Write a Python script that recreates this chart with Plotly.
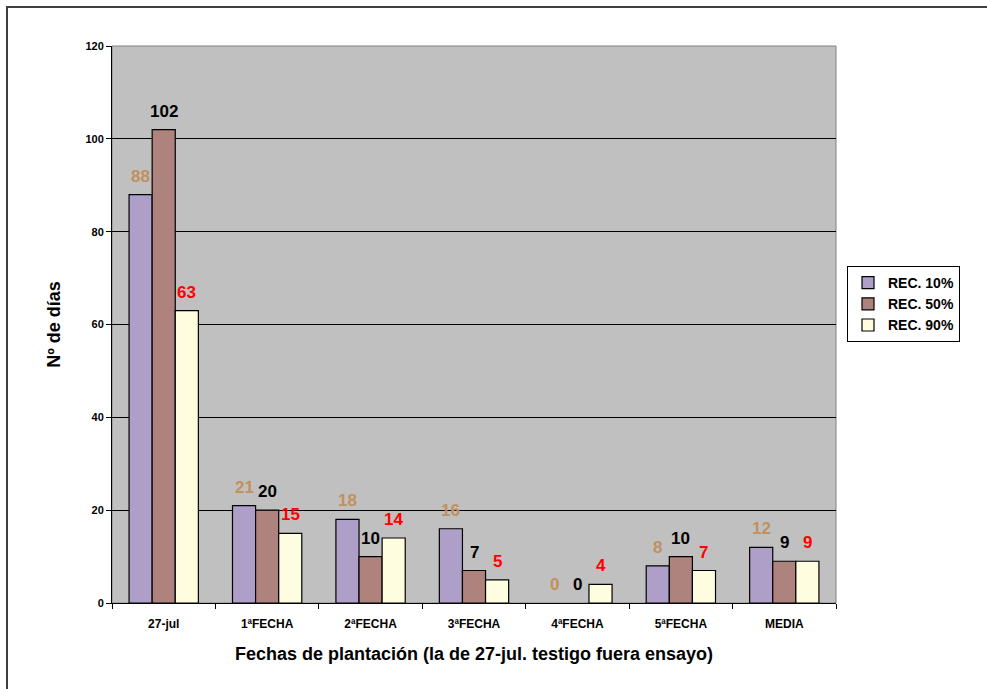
import plotly.graph_objects as go

categories = ["27-jul", "1ªFECHA", "2ªFECHA", "3ªFECHA", "4ªFECHA", "5ªFECHA", "MEDIA"]
rec10 = [88, 21, 18, 16, 0, 8, 12]
rec50 = [102, 20, 10, 7, 0, 10, 9]
rec90 = [63, 15, 14, 5, 4, 7, 9]
series_names = ["REC. 10%", "REC. 50%", "REC. 90%"]

bar_colors = ["#AE9FC9", "#AE827D", "#FFFDDF"]
label_colors = ["#C0905F", "#000000", "#FF0000"]
FONT = "Liberation Sans, Arial, sans-serif"

L, R, T, B = 112, 151, 46, 86
W, H = 987, 689
pw, ph = W - L - R, H - T - B
BAR_PX = pw / len(categories) * (1 - 0.33) / 3

def px(x):
    return (x - L) / pw

def py(y):
    return (H - B - y) / ph

fig = go.Figure()
annotations = []
for i, (name, vals, col, lcol) in enumerate(zip(series_names, [rec10, rec50, rec90], bar_colors, label_colors)):
    fig.add_trace(go.Bar(
        x=categories, y=vals, name=name,
        # no outline on empty (zero) bars
        marker=dict(color=col, line=dict(color="#000000",
                                         width=[1.2 if v else 0 for v in vals])),
    ))
    # value labels above each bar
    for c, v in zip(categories, vals):
        annotations.append(dict(
            x=c, y=v, xref="x", yref="y", text=str(v), showarrow=False,
            xanchor="center", yanchor="bottom", xshift=(i - 1) * BAR_PX, yshift=7,
            font=dict(family=FONT, size=17, color=lcol, weight="bold"),
        ))

fig.update_layout(
    width=W, height=H,
    margin=dict(l=L, r=R, t=T, b=B),
    paper_bgcolor="#FFFFFF", plot_bgcolor="#C0C0C0",
    barmode="group", bargap=0.33, bargroupgap=0,
    font=dict(family=FONT, color="#000000"),
    legend=dict(
        x=px(847), y=py(266), xanchor="left", yanchor="top",
        bgcolor="#FFFFFF", bordercolor="#000000", borderwidth=1,
        font=dict(family=FONT, size=14, color="#000000", weight="bold"),
        itemwidth=30, tracegroupgap=0,
    ),
    showlegend=True,
    annotations=annotations,
    xaxis=dict(
        type="category", showgrid=False, showline=True, linecolor="#000000", linewidth=1,
        ticks="outside", tickson="boundaries", ticklen=5, tickcolor="#000000",
        ticklabelstandoff=10,
        tickfont=dict(family=FONT, size=12, weight="bold"),
        title=dict(text="Fechas de plantación (la de 27-jul. testigo fuera ensayo)",
                   font=dict(family=FONT, size=18, weight="bold"), standoff=16),
    ),
    yaxis=dict(
        range=[0, 120], dtick=20, showgrid=True, gridcolor="#000000", gridwidth=1,
        showline=True, linecolor="#000000", linewidth=1,
        ticks="outside", ticklen=5, tickcolor="#000000",
        tickfont=dict(family=FONT, size=11, weight="bold"),
        zeroline=False,
        title=dict(text="Nº de días", font=dict(family=FONT, size=18, weight="bold"), standoff=20),
    ),
    shapes=[
        # plot area border
        dict(type="rect", xref="paper", yref="paper", x0=0, x1=1, y0=0, y1=1,
             line=dict(color="#808080", width=1), layer="below"),
        # outer chart frame
        dict(type="rect", xref="paper", yref="paper",
             x0=px(7), x1=px(995), y0=py(697), y1=py(7),
             line=dict(color="#404040", width=2)),
    ],
)

fig.write_html("out.html")
